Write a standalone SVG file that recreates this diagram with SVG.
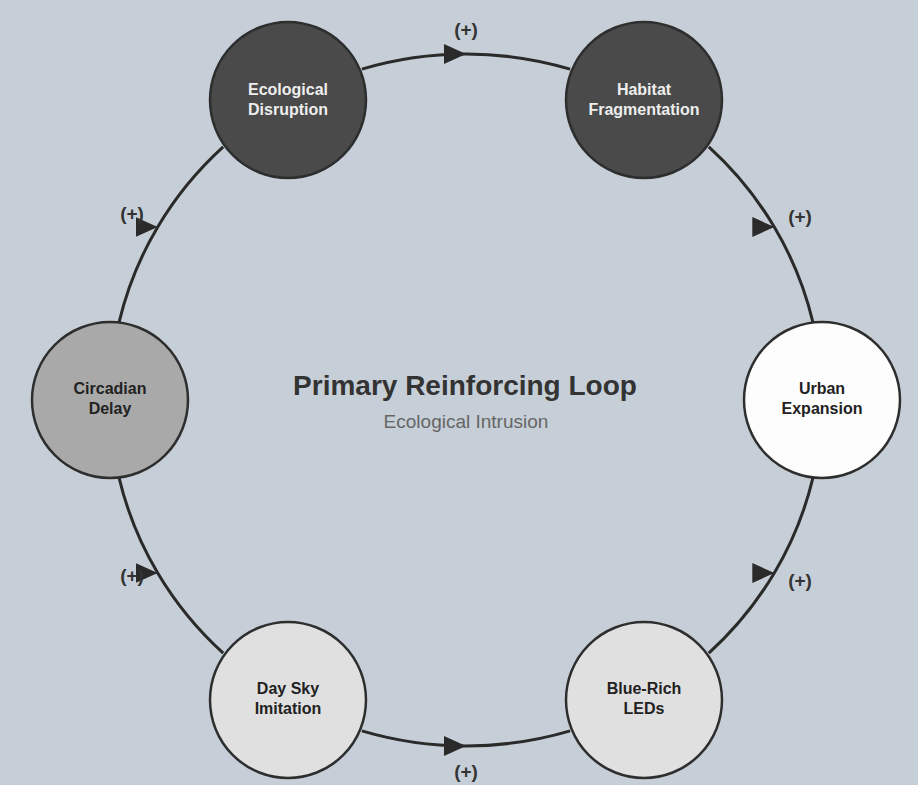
<svg xmlns="http://www.w3.org/2000/svg" width="918" height="785" viewBox="0 0 918 785">
  <defs>
    <style>
      .bg { fill: #c6cfd7; }
      .node { stroke: #2e2e2e; stroke-width: 2.5; }
      .dark { fill: #4a4a4a; }
      .mid { fill: #a9a9a9; }
      .light { fill: #e0e0e0; }
      .white { fill: #fdfdfd; }
      .lbl { font-family: "Liberation Sans", Arial, sans-serif; font-weight: bold; font-size: 16px; text-anchor: middle; }
      .lbl-w { fill: #eeeeee; }
      .lbl-d { fill: #222222; }
      .edge { fill: none; stroke: #2a2a2a; stroke-width: 3; marker-mid: url(#arrow); }
      .pol { font-family: "Liberation Sans", Arial, sans-serif; font-weight: bold; font-size: 19px; fill: #333333; text-anchor: middle; }
      .title { font-family: "Liberation Sans", Arial, sans-serif; font-weight: bold; font-size: 28px; fill: #333333; text-anchor: middle; }
      .sub { font-family: "Liberation Sans", Arial, sans-serif; font-size: 19px; fill: #666666; text-anchor: middle; }
    </style>
    <marker id="arrow" markerUnits="userSpaceOnUse" markerWidth="24" markerHeight="24" refX="22" refY="10" orient="0">
      <path d="M0,0 L22,10 L0,20 z" fill="#2a2a2a"/>
    </marker>
  </defs>

  <rect class="bg" x="0" y="0" width="918" height="785"/>

  <g id="connectors">
    <path class="edge" d="M361.9,69.1 A356,346 0 0 1 466,54 A356,346 0 0 1 570.1,69.1"/>
    <path class="edge" d="M708.8,146.9 A356,346 0 0 1 774.3,227 A356,346 0 0 1 812.9,322.2"/>
    <path class="edge" d="M812.9,477.8 A356,346 0 0 1 774.3,573 A356,346 0 0 1 708.8,653.1"/>
    <path class="edge" d="M570.1,730.9 A356,346 0 0 1 466,746 A356,346 0 0 1 361.9,730.9"/>
    <path class="edge" d="M223.2,653.1 A356,346 0 0 1 157.7,573 A356,346 0 0 1 119.1,477.8"/>
    <path class="edge" d="M119.1,322.2 A356,346 0 0 1 157.7,227 A356,346 0 0 1 223.2,146.9"/>
    <g id="polarities">
      <text class="pol" x="466" y="36">(+)</text>
      <text class="pol" x="800" y="223">(+)</text>
      <text class="pol" x="800" y="587">(+)</text>
      <text class="pol" x="466" y="778">(+)</text>
      <text class="pol" x="132" y="582">(+)</text>
      <text class="pol" x="132" y="220">(+)</text>
    </g>
  </g>

  <g id="node-ecological-disruption">
    <circle class="node dark" cx="288" cy="100" r="78"/>
    <text class="lbl lbl-w" x="288" y="95">Ecological</text>
    <text class="lbl lbl-w" x="288" y="115">Disruption</text>
  </g>
  <g id="node-habitat-fragmentation">
    <circle class="node dark" cx="644" cy="100" r="78"/>
    <text class="lbl lbl-w" x="644" y="95">Habitat</text>
    <text class="lbl lbl-w" x="644" y="115">Fragmentation</text>
  </g>
  <g id="node-urban-expansion">
    <circle class="node white" cx="822" cy="400" r="78"/>
    <text class="lbl lbl-d" x="822" y="394">Urban</text>
    <text class="lbl lbl-d" x="822" y="414">Expansion</text>
  </g>
  <g id="node-blue-rich-leds">
    <circle class="node light" cx="644" cy="700" r="78"/>
    <text class="lbl lbl-d" x="644" y="694">Blue-Rich</text>
    <text class="lbl lbl-d" x="644" y="714">LEDs</text>
  </g>
  <g id="node-day-sky-imitation">
    <circle class="node light" cx="288" cy="700" r="78"/>
    <text class="lbl lbl-d" x="288" y="694">Day Sky</text>
    <text class="lbl lbl-d" x="288" y="714">Imitation</text>
  </g>
  <g id="node-circadian-delay">
    <circle class="node mid" cx="110" cy="400" r="78"/>
    <text class="lbl lbl-d" x="110" y="394">Circadian</text>
    <text class="lbl lbl-d" x="110" y="414">Delay</text>
  </g>

  <g id="center-label">
    <text class="title" x="465" y="395">Primary Reinforcing Loop</text>
    <text class="sub" x="466" y="428">Ecological Intrusion</text>
  </g>
</svg>
